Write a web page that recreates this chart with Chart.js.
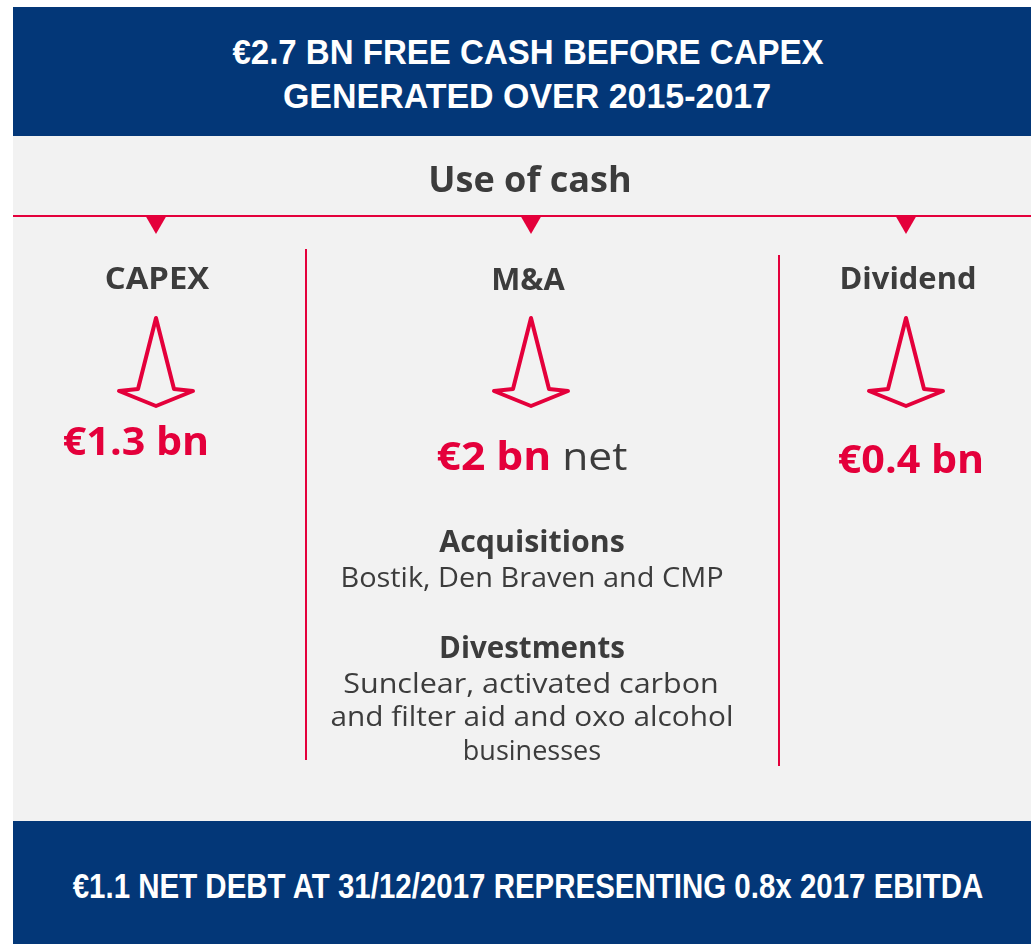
<!DOCTYPE html>
<html>
<head>
<meta charset="utf-8">
<script src="https://cdn.jsdelivr.net/npm/chart.js@4.4.1/dist/chart.umd.min.js"></script>
<style>
  html, body { margin: 0; padding: 0; background: #ffffff; }
  #page { position: relative; width: 1031px; height: 944px; overflow: hidden; }
  .band { position: absolute; left: 13px; width: 1018px; background: #033778; }
  .panel { position: absolute; left: 13px; width: 1018px; background: #f2f2f2; }
  #chartBox { position: absolute; left: 13px; top: 136px; width: 1018px; height: 685px; }
  .rule { position: absolute; width: 2px; background: #e4003b; }
  .t { position: absolute; white-space: nowrap; line-height: 1.2; transform-origin: 50% 50%;
       font-family: "Open Sans", "DejaVu Sans", sans-serif; color: #3c3c3c; }
  .cond { font-family: "Liberation Sans", Arial, sans-serif; font-weight: 700; color: #ffffff; font-size: 35px; }
  .bold { font-weight: 700; }
  .red { color: #e4003b; font-weight: 700; }
</style>
</head>
<body>
<div id="page">
  <div class="band" style="top:7px;height:129px"></div>
  <div class="panel" style="top:136px;height:685px"></div>
  <div class="band" style="top:821px;height:123px"></div>
  <div id="chartBox"><canvas id="c"></canvas></div>
  <div class="rule" style="left:305px;top:249px;height:511px"></div>
  <div class="rule" style="left:778px;top:255px;height:511px"></div>

  <div class="t cond" data-cx="527.5" data-b="64" data-w="591">€2.7 BN FREE CASH BEFORE CAPEX</div>
  <div class="t cond" data-cx="527" data-b="108" data-w="488">GENERATED OVER 2015-2017</div>
  <div class="t cond" data-cx="527.5" data-b="898" data-w="911">€1.1 NET DEBT AT 31/12/2017 REPRESENTING 0.8x 2017 EBITDA</div>
  <div class="t bold" data-cx="529.5" data-b="192" data-w="203" style="font-size:35px">Use of cash</div>
  <div id="texts"></div>
</div>

<script>
// use of cash, € bn (2015-2017)
const categories = ['CAPEX', 'M&A', 'Dividend'];
const amounts = [1.3, 2, 0.4];
const amountNotes = ['', 'net', ''];
const acquisitions = ['Bostik', 'Den Braven', 'CMP'];
const divestmentLines = ['Sunclear, activated carbon', 'and filter aid and oxo alcohol', 'businesses'];

const RED = '#e4003b';

// where each column's text sits
const headLayout = [{ cx: 157, b: 289, w: 104 }, { cx: 527.5, b: 290, w: 73 }, { cx: 907.5, b: 289, w: 137 }];
const valueLayout = [{ cx: 136, b: 455, w: 146 }, { cx: 531.5, b: 470, w: 191 }, { cx: 911, b: 473, w: 146 }];

const holder = document.getElementById('texts');
function addText(html, cls, size, pos) {
  const el = document.createElement('div');
  el.className = 't ' + cls;
  el.style.fontSize = size + 'px';
  el.dataset.cx = pos.cx; el.dataset.b = pos.b; el.dataset.w = pos.w;
  el.innerHTML = html;
  holder.appendChild(el);
}

categories.forEach((cat, i) => {
  addText(cat.replace('&', '&amp;'), 'bold', 30, headLayout[i]);
  let v = '<span class="red">€' + amounts[i] + ' bn</span>';
  if (amountNotes[i]) v += ' ' + amountNotes[i];
  addText(v, '', 39, valueLayout[i]);
});

const acqText = acquisitions.slice(0, -1).join(', ') + ' and ' + acquisitions[acquisitions.length - 1];
addText('Acquisitions', 'bold', 30, { cx: 531.5, b: 552, w: 185 });
addText(acqText, '', 28, { cx: 531.5, b: 587, w: 383 });
addText('Divestments', 'bold', 30, { cx: 532, b: 658, w: 186 });
const divLayout = [{ cx: 531, b: 693, w: 376 }, { cx: 531.5, b: 726, w: 403 }, { cx: 532, b: 760, w: 138 }];
divestmentLines.forEach((line, i) => addText(line, '', 28, divLayout[i]));

// put every text on its baseline and stretch it to the measured width
function place(el) {
  el.style.left = el.dataset.cx + 'px';
  el.style.top = '0px';
  el.style.transform = 'none';
  const probe = document.createElement('span');
  probe.style.cssText = 'display:inline-block;width:0;height:0;vertical-align:baseline';
  el.appendChild(probe);
  const base = probe.offsetTop;
  el.removeChild(probe);
  const k = (+el.dataset.w) / el.offsetWidth;
  el.style.top = (+el.dataset.b - base) + 'px';
  el.style.transform = 'translateX(-50%) scaleX(' + k.toFixed(4) + ')';
}
function placeAll() { document.querySelectorAll('.t').forEach(place); }
placeAll();
if (document.fonts) document.fonts.ready.then(placeAll);

// outlined down arrow used as point style
function arrowImage() {
  const c = document.createElement('canvas');
  c.width = 84; c.height = 96;
  const g = c.getContext('2d');
  g.translate(42, 48);
  g.strokeStyle = RED;
  g.lineWidth = 4;
  g.lineJoin = 'round';
  g.beginPath();
  g.moveTo(0, -44);
  g.lineTo(18, 27);
  g.lineTo(37, 29);
  g.lineTo(0, 44);
  g.lineTo(-37, 29);
  g.lineTo(-18, 27);
  g.closePath();
  g.stroke();
  return c;
}

// red rule under "Use of cash", just above the triangle markers
const ruleLine = {
  id: 'ruleLine',
  beforeDatasetsDraw(chart) {
    const y = Math.round(chart.scales.y.getPixelForValue(0)) - 7;
    const ctx = chart.ctx;
    ctx.save();
    ctx.fillStyle = RED;
    ctx.fillRect(0, y, chart.width, 2);
    ctx.restore();
  }
};

new Chart(document.getElementById('c').getContext('2d'), {
  type: 'scatter',
  data: {
    datasets: [
      {
        label: 'markers',
        data: categories.map(c => ({ x: c, y: 'marker' })),
        pointStyle: 'triangle',
        pointRotation: 180,
        pointRadius: 12,
        pointHoverRadius: 12,
        pointBackgroundColor: RED,
        pointBorderWidth: 0,
        clip: false
      },
      {
        label: 'arrows',
        data: categories.map(c => ({ x: c, y: 'arrow' })),
        pointStyle: arrowImage(),
        pointRadius: 40,
        pointHoverRadius: 40,
        clip: false
      }
    ]
  },
  options: {
    responsive: true,
    maintainAspectRatio: false,
    animation: false,
    events: [],
    layout: { padding: { left: 143, right: 125, top: 86, bottom: 459 } },
    scales: {
      x: { type: 'category', labels: categories, offset: false, display: false },
      y: { type: 'category', labels: ['marker', 'arrow'], offset: false, display: false }
    },
    plugins: { legend: { display: false }, tooltip: { enabled: false } }
  },
  plugins: [ruleLine]
});
</script>
</body>
</html>
